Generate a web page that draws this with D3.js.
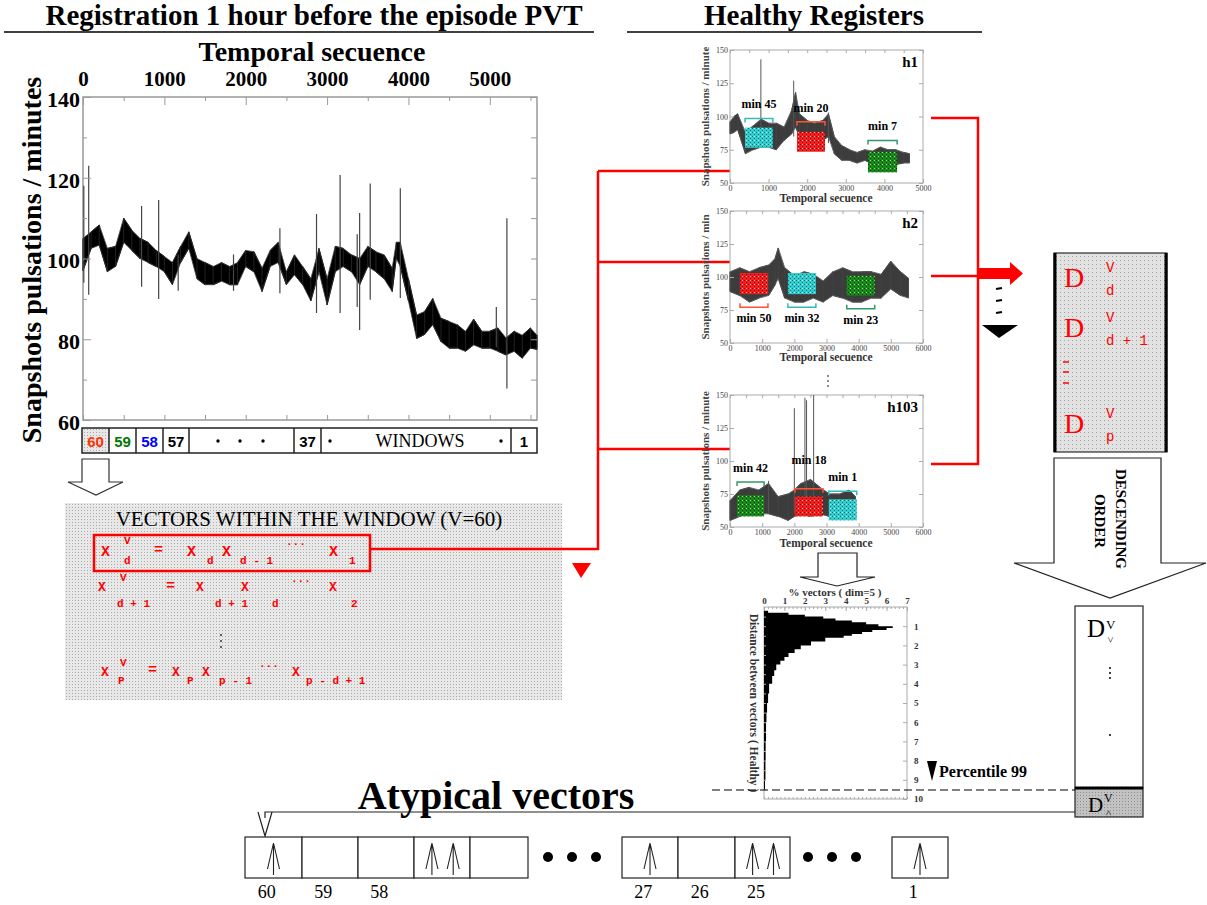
<!DOCTYPE html>
<html>
<head>
<meta charset="utf-8">
<script src="https://cdn.jsdelivr.net/npm/d3@7"></script>
<style>
  body { margin: 0; background: #fff; }
  svg { display: block; }
</style>
</head>
<body>
<div id="chart"></div>
<script>
// ---- data ----

// main registration (1 h before PVT): envelope of the heart-rate trace
const mainX  = [0, 100, 200, 300, 400, 500, 600, 700, 800, 900, 1000, 1100, 1200, 1300, 1400, 1500, 1600, 1700, 1800, 1900,
                2000, 2100, 2200, 2300, 2400, 2500, 2600, 2700, 2800, 2900, 3000, 3100, 3200, 3300, 3400, 3500, 3600, 3700,
                3800, 3850, 3900, 4000, 4100, 4200, 4300, 4400, 4500, 4600, 4700, 4800, 4900, 5000, 5100, 5200, 5300, 5400, 5500, 5580];
const mainHi = [105, 106.6, 108.3, 102.5, 103, 110, 107, 105, 104, 102, 100.5, 99, 103, 106.6, 100, 99, 98, 99, 98, 99,
                102, 101.7, 97.6, 102, 104, 96.7, 100.9, 98, 95, 102.5, 95, 103, 102.5, 100.9, 100, 103, 101.7, 100.9,
                97.6, 104, 104, 95, 86, 86.9, 90.1, 85.2, 84.4, 83.6, 81.9, 85, 82, 82, 82.8, 80.3, 82, 81, 82.8, 81];
const mainLo = [97, 102.5, 103.3, 96.7, 98, 104, 102, 100, 99, 98, 96.7, 93.5, 99, 102.5, 95, 93.5, 93.5, 94.4, 93.5, 93.5,
                98, 96.7, 91.8, 98, 99, 93.5, 96, 93.5, 89.5, 96.7, 88.5, 96.7, 98, 96.7, 93.5, 98, 96.7, 95,
                91.8, 100, 98, 89.5, 80.2, 81.2, 83.6, 79.4, 77.8, 77.8, 77, 78.6, 77.8, 77.8, 77, 76.1, 77, 75.3, 77.8, 77.5];
// isolated spikes: [x, low, high]
const mainSpikes = [[10, 94, 118], [70, 91, 123], [720, 93, 113], [930, 90, 114.5], [1170, 92, 101], [1850, 92, 101],
                    [2420, 91.4, 107.5], [2870, 86.5, 111], [3160, 86.5, 120.7], [3370, 88, 106], [3400, 82.3, 111.3],
                    [3530, 89.8, 118.6], [3900, 90.2, 117.4], [5080, 78, 88], [5210, 67.8, 110]];
const mainXTicks = [0, 1000, 2000, 3000, 4000, 5000];
const mainYTicks = [60, 80, 100, 120, 140];

const stripLabels = ['60', '59', '58', '57', '', '37', 'WINDOWS', '1'];
const stripColors = ['#ff3300', '#007700', '#0000ff', '#000', '#000', '#000', '#000', '#000'];

// healthy registers h1, h2, h103
const h1X  = [0, 100, 200, 400, 600, 800, 1000, 1200, 1400, 1600, 1700, 1800, 2000, 2200, 2400, 2550, 2700, 2900, 3100, 3300, 3500, 3700, 3900, 4100, 4300, 4500, 4650];
const h1Hi = [96, 100, 102, 88, 93, 98, 95, 95, 92, 105, 118, 102, 97, 95, 97, 102, 85, 78, 75, 73, 75, 74, 77, 75, 75, 73, 72];
const h1Lo = [87, 88, 90, 72, 75, 77, 77, 75, 82, 87, 92, 85, 77, 77, 82, 85, 72, 67, 67, 65, 67, 64, 64, 64, 64, 65, 65];
const h1Spikes = [[800, 78, 143], [1650, 85, 127], [2550, 80, 103]];
const h1Windows = [
  { x0: 390, x1: 1110, lo: 76.5, hi: 91.6, bracket: 98.5, color: 'cyan', label: 'min 45' },
  { x0: 1735, x1: 2460, lo: 73.5, hi: 88.5, bracket: 96, color: 'red', label: 'min 20' },
  { x0: 3575, x1: 4330, lo: 58, hi: 73.5, bracket: 82, color: 'green', label: 'min 7' }
];

const h2X  = [0, 300, 600, 900, 1200, 1400, 1500, 1700, 2000, 2300, 2600, 2900, 3200, 3500, 3800, 4100, 4400, 4700, 5000, 5300, 5550];
const h2Hi = [104, 107, 104, 107, 109, 114, 122, 107, 101, 104, 102, 97, 104, 107, 104, 104, 104, 102, 112, 104, 99];
const h2Lo = [89, 86, 81, 84, 86, 94, 99, 84, 81, 81, 84, 81, 86, 84, 81, 81, 84, 84, 91, 86, 84];
const h2Spikes = [];
const h2Windows = [
  { x0: 310, x1: 1180, lo: 87, hi: 103, bracket: 77, color: 'red', label: 'min 50' },
  { x0: 1800, x1: 2670, lo: 87, hi: 103, bracket: 77, color: 'cyan', label: 'min 32' },
  { x0: 3630, x1: 4500, lo: 86, hi: 101, bracket: 76, color: 'green', label: 'min 23' }
];

const h103X  = [0, 300, 600, 900, 1200, 1500, 1800, 2000, 2200, 2500, 2800, 3100, 3400, 3700, 3900];
const h103Hi = [70, 78, 80, 78, 83, 73, 75, 78, 83, 86, 80, 75, 75, 78, 73];
const h103Lo = [55, 58, 60, 60, 60, 58, 55, 58, 60, 58, 60, 58, 58, 60, 58];
const h103Spikes = [[1200, 60, 85], [2000, 60, 140], [2330, 60, 148], [2380, 60, 146], [2600, 58, 150]];
const h103Windows = [
  { x0: 220, x1: 1060, lo: 58, hi: 74, bracket: 84, color: 'green', label: 'min 42' },
  { x0: 2020, x1: 2890, lo: 58, hi: 73, bracket: 79, color: 'red', label: 'min 18' },
  { x0: 3070, x1: 3940, lo: 55, hi: 71, bracket: 77, color: 'cyan', label: 'min 1' }
];
const miniYTicks = [50, 75, 100, 125, 150];

// histogram of distances between healthy vectors
const histD   = [0.2, 0.3, 0.4, 0.5, 0.6, 0.7, 0.8, 0.9, 1.0, 1.1, 1.2, 1.3, 1.4, 1.5, 1.6, 1.8, 2.0, 2.2, 2.4, 2.6,
                 2.8, 3.0, 3.3, 3.6, 4.0, 4.5, 5.0, 5.5, 6.0, 7.0, 8.0, 9.0, 9.5];
const histPct = [0, 0.2, 1.2, 2.0, 2.9, 3.5, 4.3, 5.0, 5.6, 6.3, 6.0, 5.3, 4.8, 4.3, 3.9, 3.0, 2.3, 1.8, 1.5, 1.2,
                 1.0, 0.8, 0.6, 0.5, 0.4, 0.25, 0.2, 0.15, 0.12, 0.1, 0.08, 0.07, 0.05];
const histPctTicks = [0, 1, 2, 3, 4, 5, 6, 7];
const histDTicks = [1, 2, 3, 4, 5, 6, 7, 8, 9, 10];

// atypical vectors row
const atypicalLabels = ['60', '59', '58', '', '', '27', '26', '25', '1'];
const atypicalArrows = [1, 0, 0, 2, 0, 1, 0, 2, 1];

// ---- drawing ----
const SERIF = '"Liberation Serif", "Times New Roman", serif';
const MONO = '"Liberation Mono", "Courier New", monospace';
const SANS = '"Liberation Sans", Arial, sans-serif';
const RED = '#ff0000';
const fmt = d3.format('d');

const svg = d3.select('#chart').append('svg').attr('width', 1207).attr('height', 905);
const defs = svg.append('defs');

function dotPattern(id, base, dot, step) {
  const p = defs.append('pattern').attr('id', id).attr('width', step).attr('height', step)
    .attr('patternUnits', 'userSpaceOnUse');
  p.append('rect').attr('width', step).attr('height', step).attr('fill', base);
  p.append('rect').attr('width', 1).attr('height', 1).attr('fill', dot);
}
dotPattern('dots', '#e8e8e8', '#a9a9a9', 3);
dotPattern('dotsD', '#e2e2e2', '#a0a0a0', 4);
dotPattern('dotsCell', '#c2c2c2', '#8f8f8f', 3);

const winColor = { cyan: '#33cccc', red: '#f21d1d', green: '#178a17' };
const winDark  = { cyan: '#0b6f78', red: '#7d0000', green: '#063d06' };
const bracketColor = { cyan: '#33bbbb', red: '#ff5533', green: '#339966' };
Object.keys(winColor).forEach(k => {
  const p = defs.append('pattern').attr('id', 'win-' + k).attr('width', 4).attr('height', 4)
    .attr('patternUnits', 'userSpaceOnUse');
  p.append('rect').attr('width', 4).attr('height', 4).attr('fill', winColor[k]);
  p.append('rect').attr('x', 0).attr('y', 0).attr('width', 1).attr('height', 1).attr('fill', winDark[k]);
  p.append('rect').attr('x', 2).attr('y', 2).attr('width', 1).attr('height', 1).attr('fill', winDark[k]);
  p.append('rect').attr('x', 2).attr('y', 0).attr('width', 1).attr('height', 1).attr('fill', '#fff').attr('opacity', 0.6);
});

function txt(g, x, y, s, o = {}) {
  const t = g.append('text').attr('x', x).attr('y', y).text(s)
    .attr('font-family', o.family || SERIF).attr('font-size', o.size || 14)
    .attr('font-weight', o.weight || 'normal').attr('fill', o.fill || '#000')
    .attr('text-anchor', o.anchor || 'start');
  if (o.rotate) t.attr('transform', `rotate(${o.rotate},${x},${y})`);
  return t;
}

function styleAxis(g, size, color) {
  g.select('.domain').remove();
  g.selectAll('.tick line').attr('stroke', color || '#999');
  g.selectAll('text').attr('font-family', SERIF).attr('font-size', size).attr('fill', '#000');
}

// section titles
txt(svg, 314, 25, 'Registration 1 hour before the episode PVT', { size: 29, weight: 'bold', anchor: 'middle' });
svg.append('line').attr('x1', 4).attr('x2', 594).attr('y1', 32).attr('y2', 32).attr('stroke', '#000').attr('stroke-width', 1.5);
txt(svg, 814, 25, 'Healthy Registers', { size: 29, weight: 'bold', anchor: 'middle' });
svg.append('line').attr('x1', 627).attr('x2', 982).attr('y1', 32).attr('y2', 32).attr('stroke', '#000').attr('stroke-width', 1.5);

// ---- main chart ----
const xMain = d3.scaleLinear().domain([0, 5580]).range([83, 537]);
const yMain = d3.scaleLinear().domain([60, 140]).range([420, 97]);
const main = svg.append('g');

main.append('rect').attr('x', 83).attr('y', 97).attr('width', 454).attr('height', 323)
  .attr('fill', '#fff').attr('stroke', '#999').attr('stroke-width', 1.5);

const mainPts = mainX.map((x, i) => ({ x, lo: mainLo[i], hi: mainHi[i] }));
main.append('path').datum(mainPts)
  .attr('d', d3.area().x(d => xMain(d.x)).y0(d => yMain(d.lo)).y1(d => yMain(d.hi)))
  .attr('fill', '#000').attr('stroke', '#444').attr('stroke-width', 0.8).attr('stroke-linejoin', 'round');
// min/max zig-zag over the samples, the way a dense trace is rendered
const zig = [];
mainPts.forEach((d, i) => { zig.push([d.x, i % 2 ? d.lo : d.hi]); zig.push([d.x, i % 2 ? d.hi : d.lo]); });
main.append('path').datum(zig)
  .attr('d', d3.line().x(d => xMain(d[0])).y(d => yMain(d[1])))
  .attr('fill', 'none').attr('stroke', '#222').attr('stroke-width', 1);
main.selectAll('.spike').data(mainSpikes).join('line')
  .attr('x1', d => xMain(d[0])).attr('x2', d => xMain(d[0]))
  .attr('y1', d => yMain(d[1])).attr('y2', d => yMain(d[2]))
  .attr('stroke', '#444').attr('stroke-width', 1.2);

main.append('g').attr('transform', 'translate(0,97)')
  .call(d3.axisTop(xMain).tickValues(d3.range(500, 5580, 1000)).tickSize(-4).tickFormat(''))
  .call(g => styleAxis(g, 0));
main.append('g').attr('transform', 'translate(0,97)')
  .call(d3.axisTop(xMain).tickValues(mainXTicks).tickSize(-8).tickPadding(11).tickFormat(fmt))
  .call(g => styleAxis(g, 21))
  .call(g => g.selectAll('text').attr('font-weight', 'bold'));
main.append('g').attr('transform', 'translate(0,420)')
  .call(d3.axisBottom(xMain).tickValues(d3.range(0, 5580, 500)).tickSize(-5).tickFormat(''))
  .call(g => styleAxis(g, 0));
main.append('g').attr('transform', 'translate(83,0)')
  .call(d3.axisLeft(yMain).tickValues(d3.range(70, 140, 20)).tickSize(-4).tickFormat(''))
  .call(g => styleAxis(g, 0));
main.append('g').attr('transform', 'translate(83,0)')
  .call(d3.axisLeft(yMain).tickValues(mainYTicks).tickSize(-8).tickPadding(3).tickFormat(fmt))
  .call(g => styleAxis(g, 22))
  .call(g => g.selectAll('text').attr('font-weight', 'bold').attr('dy', '0.42em'));
main.append('g').attr('transform', 'translate(537,0)')
  .call(d3.axisRight(yMain).tickValues(d3.range(60, 141, 10)).tickSize(-6).tickFormat(''))
  .call(g => styleAxis(g, 0));

txt(svg, 312, 61, 'Temporal secuence', { size: 28, weight: 'bold', anchor: 'middle' });
txt(svg, 41, 260, 'Snapshots pulsations / minutes', { size: 28, weight: 'bold', anchor: 'middle', rotate: -90 });

// windows strip
const stripEdges = [82, 109, 136, 163, 189, 294, 321, 511, 537];
const strip = svg.append('g');
strip.append('rect').attr('x', 82).attr('y', 429).attr('width', 27).attr('height', 24).attr('fill', 'url(#dots)');
strip.append('rect').attr('x', 82).attr('y', 428).attr('width', 455).attr('height', 25)
  .attr('fill', 'none').attr('stroke', '#222').attr('stroke-width', 1.5);
stripEdges.slice(1, -1).forEach(x => strip.append('line').attr('x1', x).attr('x2', x).attr('y1', 428).attr('y2', 453)
  .attr('stroke', '#222').attr('stroke-width', 1.5));
stripLabels.forEach((s, i) => {
  if (!s) return;
  const cx = (stripEdges[i] + stripEdges[i + 1]) / 2;
  if (s === 'WINDOWS') txt(strip, cx + 4, 447, s, { size: 18, anchor: 'middle' });
  else txt(strip, cx, 447, s, { size: 15, weight: 'bold', family: SANS, anchor: 'middle', fill: stripColors[i] });
});
[218, 240, 263, 330, 501].forEach(x => strip.append('circle').attr('cx', x).attr('cy', 441).attr('r', 1.7).attr('fill', '#000'));

// hollow arrow under the strip
svg.append('polygon').attr('points', '82,459 109,459 109,482 123,482 96,495 68,482 82,482')
  .attr('fill', '#fff').attr('stroke', '#333').attr('stroke-width', 1.2);

// ---- vectors box ----
const vb = svg.append('g');
vb.append('rect').attr('x', 65).attr('y', 503).attr('width', 497).attr('height', 197).attr('fill', 'url(#dots)');
txt(vb, 309, 526, 'VECTORS WITHIN THE WINDOW (V=60)', { size: 21, anchor: 'middle' });
vb.append('rect').attr('x', 94).attr('y', 535).attr('width', 276).attr('height', 36)
  .attr('fill', 'none').attr('stroke', RED).attr('stroke-width', 2.5);
const formula = [
  ['X', 101, 556, 15], ['V', 124, 544, 11], ['d', 124, 564, 11], ['=', 154, 554, 15],
  ['X', 187, 556, 15], ['d', 207, 564, 11], ['X', 222, 556, 15], ['d - 1', 240, 564, 11],
  ['···', 286, 547, 11], ['X', 329, 556, 15], ['1', 349, 564, 11],
  ['X', 98, 591, 13], ['V', 120, 581, 11], ['d + 1', 117, 607, 11], ['=', 166, 590, 15],
  ['X', 196, 591, 13], ['d + 1', 215, 607, 11], ['X', 241, 591, 13], ['d', 272, 607, 11],
  ['···', 291, 584, 11], ['X', 329, 591, 13], ['2', 351, 607, 11],
  ['X', 101, 676, 13], ['V', 120, 666, 11], ['P', 118, 684, 11], ['=', 148, 674, 15],
  ['X', 172, 676, 13], ['P', 187, 684, 11], ['X', 202, 676, 13], ['p - 1', 219, 684, 11],
  ['···', 259, 669, 11], ['X', 292, 676, 13], ['p - d + 1', 306, 684, 11]
];
formula.forEach(f => txt(vb, f[1], f[2], f[0], { size: f[3], family: MONO, weight: 'bold', fill: RED }));
[635, 641, 647].forEach(y => vb.append('circle').attr('cx', 221).attr('cy', y).attr('r', 1).attr('fill', '#333'));

// red connectors from the vector box to healthy registers
const conn = svg.append('g').attr('fill', 'none').attr('stroke', RED).attr('stroke-width', 2.5);
conn.append('path').attr('d', 'M370,549 H598 V171');
conn.append('path').attr('d', 'M598,171 H811 V154');
conn.append('path').attr('d', 'M598,262 H753 V268');
conn.append('path').attr('d', 'M598,449 H814 V478');
svg.append('polygon').attr('points', '572,563 591,563 581,578').attr('fill', RED);

// ---- mini charts ----
const minis = [
  { name: 'h1', top: 50, bottom: 183, xMax: 5000, X: h1X, lo: h1Lo, hi: h1Hi, spikes: h1Spikes, windows: h1Windows,
    above: true, ytitle: 'Snapshots pulsations / minute', xtitleY: 202 },
  { name: 'h2', top: 211, bottom: 343, xMax: 6000, X: h2X, lo: h2Lo, hi: h2Hi, spikes: h2Spikes, windows: h2Windows,
    above: false, ytitle: 'Snapshots pulsations / min', xtitleY: 361 },
  { name: 'h103', top: 395, bottom: 527, xMax: 6000, X: h103X, lo: h103Lo, hi: h103Hi, spikes: h103Spikes, windows: h103Windows,
    above: true, ytitle: 'Snapshots pulsations / minute', xtitleY: 547 }
];
minis.forEach(m => {
  const g = svg.append('g');
  const x = d3.scaleLinear().domain([0, m.xMax]).range([730, 923]);
  const y = d3.scaleLinear().domain([50, 150]).range([m.bottom, m.top]);
  g.append('rect').attr('x', 730).attr('y', m.top).attr('width', 193).attr('height', m.bottom - m.top)
    .attr('fill', '#fff').attr('stroke', '#aaa').attr('stroke-width', 1);
  const pts = m.X.map((v, i) => ({ x: v, lo: m.lo[i], hi: m.hi[i] }));
  g.append('path').datum(pts)
    .attr('d', d3.area().x(d => x(d.x)).y0(d => y(d.lo)).y1(d => y(d.hi)))
    .attr('fill', '#1a1a1a').attr('fill-opacity', 0.85).attr('stroke', '#666').attr('stroke-width', 1);
  const z = [];
  pts.forEach((d, i) => { z.push([d.x, i % 2 ? d.lo : d.hi]); z.push([d.x, i % 2 ? d.hi : d.lo]); });
  g.append('path').datum(z).attr('d', d3.line().x(d => x(d[0])).y(d => y(d[1])))
    .attr('fill', 'none').attr('stroke', '#444').attr('stroke-width', 0.8);
  g.selectAll('.sp').data(m.spikes).join('line')
    .attr('x1', d => x(d[0])).attr('x2', d => x(d[0])).attr('y1', d => y(d[1])).attr('y2', d => y(d[2]))
    .attr('stroke', '#555').attr('stroke-width', 1);

  const xt = d3.range(0, m.xMax + 1, 1000);
  g.append('g').attr('transform', `translate(0,${m.bottom})`)
    .call(d3.axisBottom(x).tickValues(xt).tickSize(-4).tickPadding(2).tickFormat(fmt))
    .call(a => styleAxis(a, 8, '#aaa'))
    .call(a => a.selectAll('text').attr('fill', '#444'));
  g.append('g').attr('transform', `translate(0,${m.top})`)
    .call(d3.axisTop(x).tickValues(d3.range(0, m.xMax + 1, 500)).tickSize(-3).tickFormat(''))
    .call(a => styleAxis(a, 0, '#aaa'));
  g.append('g').attr('transform', 'translate(730,0)')
    .call(d3.axisLeft(y).tickValues(miniYTicks).tickSize(-4).tickPadding(2).tickFormat(fmt))
    .call(a => styleAxis(a, 8, '#aaa'))
    .call(a => a.selectAll('text').attr('fill', '#444'));
  g.append('g').attr('transform', 'translate(923,0)')
    .call(d3.axisRight(y).tickValues(miniYTicks).tickSize(-4).tickFormat(''))
    .call(a => styleAxis(a, 0, '#aaa'));

  let prev = null;
  m.windows.forEach(w => {
    g.append('rect').attr('x', x(w.x0)).attr('y', y(w.hi)).attr('width', x(w.x1) - x(w.x0))
      .attr('height', y(w.lo) - y(w.hi)).attr('fill', `url(#win-${w.color})`);
    const by = y(w.bracket), dir = m.above ? 4 : -4;
    g.append('path').attr('d', `M${x(w.x0)},${by + dir} V${by} H${x(w.x1)} V${by + dir}`)
      .attr('fill', 'none').attr('stroke', bracketColor[w.color]).attr('stroke-width', 1.5);
    const cx = (x(w.x0) + x(w.x1)) / 2;
    let ly = m.above ? by - 10 : by + 15;
    if (prev && Math.abs(cx - prev.cx) < 42 && Math.abs(ly - prev.ly) < 12) prev.node.attr('y', prev.ly - 15);
    const node = txt(g, cx, ly, w.label, { size: 12, weight: 'bold', anchor: 'middle' });
    prev = { cx, ly, node };
  });
  txt(g, 918, m.top + 17, m.name, { size: 15, weight: 'bold', anchor: 'end' });
  txt(g, 826, m.xtitleY, 'Temporal secuence', { size: 11.5, weight: 'bold', anchor: 'middle', fill: '#333' });
  txt(g, 709, (m.top + m.bottom) / 2, m.ytitle, { size: 11, weight: 'bold', anchor: 'middle', fill: '#444', rotate: -90 });
});
[376, 381, 386].forEach(y => svg.append('circle').attr('cx', 828).attr('cy', y).attr('r', 0.9).attr('fill', '#555'));

// red lines on the right into the distance box
const conn2 = svg.append('g').attr('fill', 'none').attr('stroke', RED).attr('stroke-width', 2.5);
conn2.append('path').attr('d', 'M931,118 H978 V464 H931');
conn2.append('path').attr('d', 'M931,276 H978');
svg.append('rect').attr('x', 978).attr('y', 268).attr('width', 34).attr('height', 11).attr('fill', RED);
svg.append('polygon').attr('points', '1010,262 1023,273.5 1010,285').attr('fill', RED);
[288, 300, 312].forEach(y => svg.append('line').attr('x1', 996).attr('x2', 1002).attr('y1', y + 1).attr('y2', y)
  .attr('stroke', '#000').attr('stroke-width', 2));
svg.append('polygon').attr('points', '982,325 1018,325 999,338').attr('fill', '#000');

// D box
const db = svg.append('g');
db.append('rect').attr('x', 1054).attr('y', 253).attr('width', 113).attr('height', 199).attr('fill', 'url(#dotsD)')
  .attr('stroke', '#000').attr('stroke-width', 1);
db.append('line').attr('x1', 1055).attr('x2', 1055).attr('y1', 253).attr('y2', 452).attr('stroke', '#000').attr('stroke-width', 3);
db.append('line').attr('x1', 1166).attr('x2', 1166).attr('y1', 253).attr('y2', 452).attr('stroke', '#000').attr('stroke-width', 3);
[[287, 'V', 'd'], [337, 'V', 'd + 1'], [433, 'V', 'p']].forEach(r => {
  txt(db, 1064, r[0], 'D', { size: 28, fill: RED });
  txt(db, 1106, r[0] - 15, r[1], { size: 14, family: MONO, fill: RED });
  txt(db, 1106, r[0] + 8, r[2], { size: 14, family: MONO, fill: RED });
});
[362, 372, 383].forEach(y => db.append('line').attr('x1', 1063).attr('x2', 1069).attr('y1', y).attr('y2', y)
  .attr('stroke', RED).attr('stroke-width', 1.5));

// descending order arrow
svg.append('polygon').attr('points', '1054,458 1161,458 1161,563 1206,563 1110,598 1014,563 1054,563')
  .attr('fill', '#fff').attr('stroke', '#222').attr('stroke-width', 1.2);
txt(svg, 1116, 519, 'DESCENDING', { size: 15, weight: 'bold', anchor: 'middle', rotate: 90 });
txt(svg, 1095, 521, 'ORDER', { size: 15, weight: 'bold', anchor: 'middle', rotate: 90 });

// sorted column
const col = svg.append('g');
col.append('rect').attr('x', 1075).attr('y', 606).attr('width', 68).attr('height', 182).attr('fill', '#fff')
  .attr('stroke', '#222').attr('stroke-width', 1.2);
col.append('rect').attr('x', 1075).attr('y', 788).attr('width', 68).attr('height', 29).attr('fill', 'url(#dotsCell)')
  .attr('stroke', '#222').attr('stroke-width', 1.2);
col.append('line').attr('x1', 1075).attr('x2', 1143).attr('y1', 788).attr('y2', 788).attr('stroke', '#000').attr('stroke-width', 3);
txt(col, 1087, 637, 'D', { size: 25 });
txt(col, 1106, 629, 'V', { size: 13 });
txt(col, 1114, 640, '<', { size: 11, anchor: 'middle', rotate: -90 });
[668, 673, 678].forEach(y => col.append('circle').attr('cx', 1110).attr('cy', y).attr('r', 1).attr('fill', '#000'));
col.append('circle').attr('cx', 1110).attr('cy', 735).attr('r', 1).attr('fill', '#000');
txt(col, 1088, 812, 'D', { size: 21 });
txt(col, 1104, 802, 'V', { size: 12 });
txt(col, 1112, 813, '>', { size: 10, anchor: 'middle', rotate: -90 });

// ---- histogram ----
const hx = d3.scaleLinear().domain([0, 7]).range([764, 907]);
const hy = d3.scaleLinear().domain([0, 10]).range([607, 799]);
const hg = svg.append('g');
svg.append('polygon').attr('points', '818,553 857,553 857,577 875,577 837,586 800,577 818,577')
  .attr('fill', '#fff').attr('stroke', '#222').attr('stroke-width', 1.2);
hg.append('rect').attr('x', 764).attr('y', 607).attr('width', 143).attr('height', 192)
  .attr('fill', '#fff').attr('stroke', '#aaa').attr('stroke-width', 1);
const histPts = histD.map((d, i) => ({ d, p: histPct[i] }));
hg.append('path').datum(histPts)
  .attr('d', d3.area().curve(d3.curveStepAfter).y(d => hy(d.d)).x0(hx(0)).x1(d => hx(d.p)))
  .attr('fill', '#000');
hg.append('g').attr('transform', 'translate(0,607)')
  .call(d3.axisTop(hx).tickValues(d3.range(0, 7.01, 0.2)).tickSize(-2).tickFormat(''))
  .call(a => styleAxis(a, 0, '#aaa'));
hg.append('g').attr('transform', 'translate(0,607)')
  .call(d3.axisTop(hx).tickValues(histPctTicks).tickSize(-4).tickPadding(3).tickFormat(fmt))
  .call(a => styleAxis(a, 9, '#aaa'))
  .call(a => a.selectAll('text').attr('font-weight', 'bold').attr('fill', '#333'));
hg.append('g').attr('transform', 'translate(0,799)')
  .call(d3.axisBottom(hx).tickValues(d3.range(0, 7.01, 0.2)).tickSize(-2).tickFormat(''))
  .call(a => styleAxis(a, 0, '#aaa'));
hg.append('g').attr('transform', 'translate(907,0)')
  .call(d3.axisRight(hy).tickValues(histDTicks).tickSize(-4).tickPadding(7).tickFormat(fmt))
  .call(a => styleAxis(a, 9, '#aaa'))
  .call(a => a.selectAll('text').attr('font-weight', 'bold').attr('fill', '#333'));
hg.append('g').attr('transform', 'translate(764,0)')
  .call(d3.axisLeft(hy).tickValues(d3.range(0.5, 10, 0.5)).tickSize(-2).tickFormat(''))
  .call(a => styleAxis(a, 0, '#aaa'));
txt(hg, 835, 596, '% vectors ( dim=5 )', { size: 11, weight: 'bold', anchor: 'middle', fill: '#333' });
txt(hg, 750, 703, 'Distance between vectors ( Healthy )', { size: 11.5, weight: 'bold', anchor: 'middle', fill: '#333', rotate: 90 });

// percentile marker
svg.append('polygon').attr('points', '927,761 937,761 932,781').attr('fill', '#000');
txt(svg, 939, 777, 'Percentile 99', { size: 16, weight: 'bold' });
svg.append('line').attr('x1', 712).attr('x2', 1075).attr('y1', 790).attr('y2', 790)
  .attr('stroke', '#000').attr('stroke-width', 1.2).attr('stroke-dasharray', '8,4');

// ---- atypical vectors ----
txt(svg, 496, 809, 'Atypical vectors', { size: 40, weight: 'bold', anchor: 'middle' });
svg.append('path').attr('d', 'M1075,812 H265 V818').attr('fill', 'none').attr('stroke', '#222').attr('stroke-width', 1.2);
svg.append('path').attr('d', 'M258,812 L265,836 L272,812').attr('fill', 'none').attr('stroke', '#222').attr('stroke-width', 1.2);

const cellX = [245, 302, 358, 414, 470, 622, 678, 735, 892];
const cellW = [57, 56, 56, 56, 58, 56, 57, 55, 56];
const at = svg.append('g');
cellX.forEach((x0, i) => {
  at.append('rect').attr('x', x0).attr('y', 837).attr('width', cellW[i]).attr('height', 41)
    .attr('fill', '#fff').attr('stroke', '#222').attr('stroke-width', 1.2);
  const n = atypicalArrows[i];
  const xs = n === 1 ? [x0 + cellW[i] * 0.5] : n === 2 ? [x0 + cellW[i] * 0.32, x0 + cellW[i] * 0.7] : [];
  xs.forEach(cx => at.append('path')
    .attr('d', `M${cx - 6},869 L${cx},843 L${cx + 6},869 M${cx},843 V875`)
    .attr('fill', 'none').attr('stroke', '#222').attr('stroke-width', 1.1));
  if (atypicalLabels[i]) txt(at, x0 + cellW[i] * 0.38, 898, atypicalLabels[i], { size: 18, anchor: 'middle' });
});
[548, 572, 596, 808, 832, 856].forEach(x => at.append('circle').attr('cx', x).attr('cy', 857).attr('r', 5).attr('fill', '#000'));
</script>
</body>
</html>
